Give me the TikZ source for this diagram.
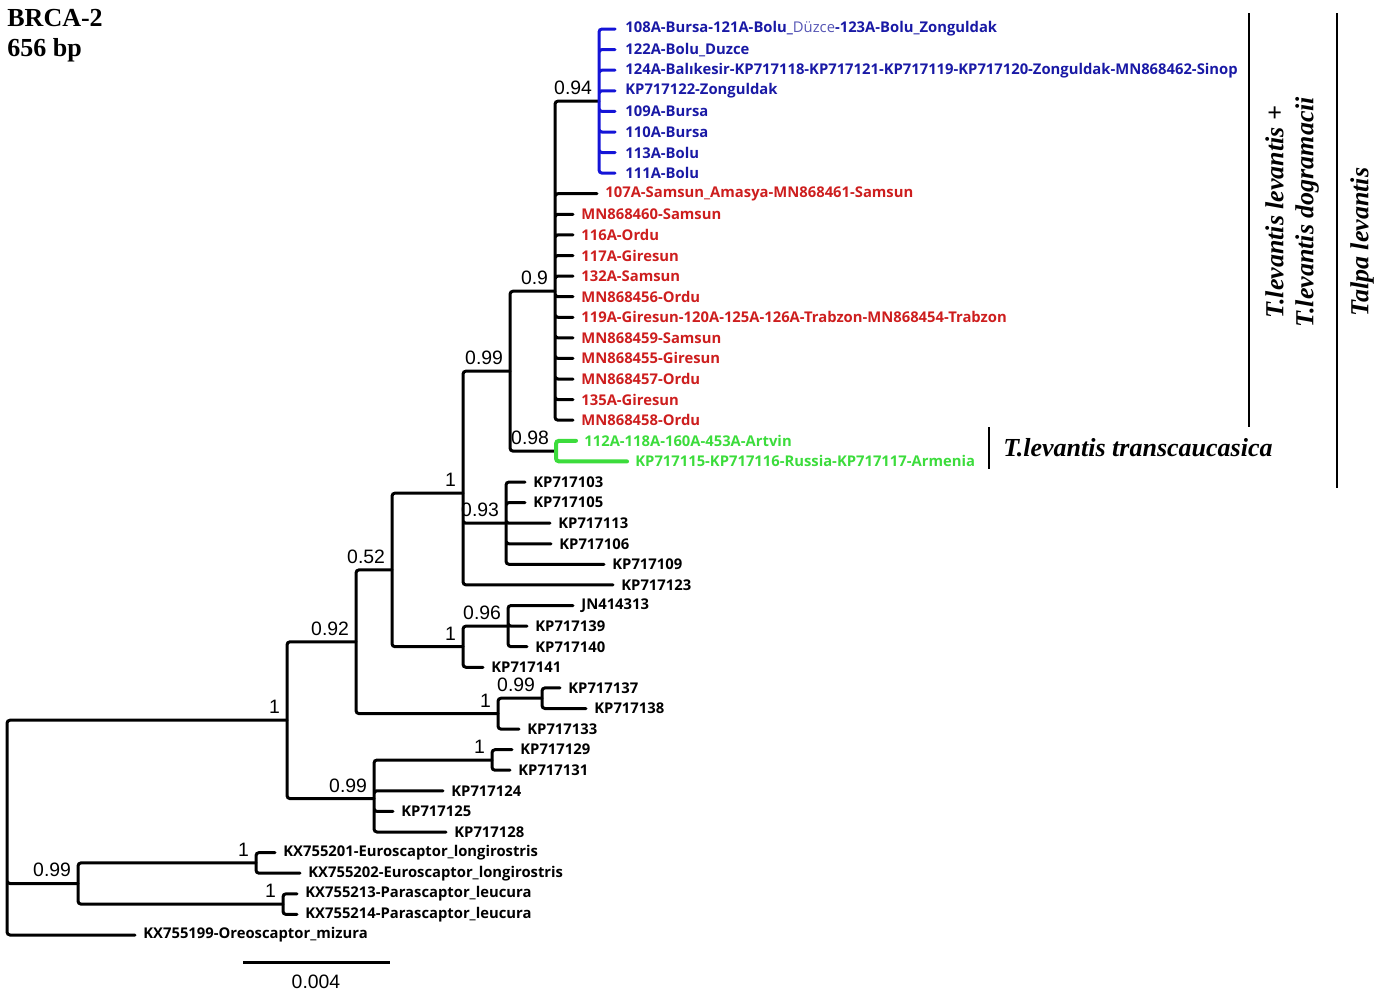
\documentclass[tikz,border=0pt]{standalone}
\usepackage{fontspec}
\setmainfont{Liberation Serif}
\newfontfamily\leaffont{Open Sans}
\newfontfamily\suppfont{Liberation Sans}
\usetikzlibrary{positioning}
\definecolor{cladeblue}{RGB}{20,20,215}
\definecolor{bluetext}{RGB}{25,25,165}
\definecolor{dzblue}{RGB}{85,85,180}
\definecolor{cladered}{RGB}{205,30,30}
\definecolor{cladegreen}{RGB}{60,220,60}

\begin{document}
\begin{tikzpicture}[x=0.5pt,y=-0.5pt,
  br/.style={line width=1.5pt,line cap=round,rounded corners=1.5pt},
  supp/.style={font=\suppfont\fontsize{9.7}{11}\selectfont,inner sep=0pt,xshift=-3.3pt,yshift=3pt},
  lab/.style={font=\leaffont\bfseries\fontsize{7.4}{9}\selectfont,inner sep=0pt,xshift=4pt},
  blab/.style={lab,text=bluetext,xshift=1pt},
  rlab/.style={lab,text=cladered},
  glab/.style={lab,text=cladegreen},
  taxon/.style={font=\bfseries\itshape\fontsize{13}{15}\selectfont,inner sep=0pt},
  bar/.style={line width=0.7pt}]
\useasboundingbox (0,0) rectangle (1388,997);

\node[anchor=north west,align=left,inner sep=0pt,font=\bfseries\fontsize{13}{15}\selectfont] (title) at (7,9) {BRCA-2\\656 bp};

% internal nodes
\coordinate (root) at (7,846.2);
\coordinate[label={[supp]above left:1}] (nin) at (287,720.2);
\coordinate[label={[supp]above left:0.92}] (n092) at (356,641.8);
\coordinate[label={[supp]above left:0.52}] (n052) at (392,569.9);
\coordinate[label={[supp]above left:1}] (n1a) at (463,493.1);
\coordinate[label={[supp]above left:0.99}] (n099a) at (510,371.1);
\coordinate[label={[supp]above left:0.9}] (n09) at (555,291.2);
\coordinate[label={[supp]above left:0.94}] (n094) at (599,101.1);
\coordinate[label={[supp]above left:0.98}] (n098) at (556,451.1);
\coordinate[label={[supp]above left:0.93}] (n093) at (506,523.2);
\coordinate[label={[supp]above left:1}] (n1b) at (463,646.7);
\coordinate[label={[supp]above left:0.96}] (n096) at (508,626.1);
\coordinate[label={[supp]above left:1}] (n1c) at (498,713.6);
\coordinate[label={[supp]above left:0.99}] (n099b) at (542,698.2);
\coordinate[label={[supp]above left:0.99}] (n099c) at (374,798.6);
\coordinate[label={[supp]above left:1}] (n1d) at (492,760.0);
\coordinate[label={[supp]above left:0.99}] (n099d) at (78,883.5);
\coordinate[label={[supp]above left:1}] (n1e) at (256,862.9);
\coordinate[label={[supp]above left:1}] (n1f) at (283,904.1);

% tips
\coordinate[label={[blab]right:108A-Bursa-121A-Bolu\_{\mdseries\color{dzblue}Düzce}-123A-Bolu\_Zonguldak}] (b108) at (615,29.0);
\coordinate[label={[blab]right:122A-Bolu\_Duzce}] (b122) at (615,49.6);
\coordinate[label={[blab]right:124A-Balıkesir-KP717118-KP717121-KP717119-KP717120-Zonguldak-MN868462-Sinop}] (b124) at (615,70.2);
\coordinate[label={[blab]right:KP717122-Zonguldak}] (b122z) at (615,90.8);
\coordinate[label={[blab]right:109A-Bursa}] (b109) at (615,111.4);
\coordinate[label={[blab]right:110A-Bursa}] (b110) at (615,132.0);
\coordinate[label={[blab]right:113A-Bolu}] (b113) at (615,152.5);
\coordinate[label={[blab]right:111A-Bolu}] (b111) at (615,173.1);
\coordinate[label={[rlab]right:107A-Samsun\_Amasya-MN868461-Samsun}] (r107) at (597,193.7);
\coordinate[label={[rlab]right:MN868460-Samsun}] (r460) at (573,214.3);
\coordinate[label={[rlab]right:116A-Ordu}] (r116) at (573,234.9);
\coordinate[label={[rlab]right:117A-Giresun}] (r117) at (573,255.5);
\coordinate[label={[rlab]right:132A-Samsun}] (r132) at (573,276.1);
\coordinate[label={[rlab]right:MN868456-Ordu}] (r456) at (573,296.7);
\coordinate[label={[rlab]right:119A-Giresun-120A-125A-126A-Trabzon-MN868454-Trabzon}] (r119) at (573,317.3);
\coordinate[label={[rlab]right:MN868459-Samsun}] (r459) at (573,337.9);
\coordinate[label={[rlab]right:MN868455-Giresun}] (r455) at (573,358.4);
\coordinate[label={[rlab]right:MN868457-Ordu}] (r457) at (573,379.0);
\coordinate[label={[rlab]right:135A-Giresun}] (r135) at (573,399.6);
\coordinate[label={[rlab]right:MN868458-Ordu}] (r458) at (573,420.2);
\coordinate[label={[glab]right:112A-118A-160A-453A-Artvin}] (g112) at (576,440.8);
\coordinate[label={[glab]right:KP717115-KP717116-Russia-KP717117-Armenia}] (g115) at (627,461.4);
\coordinate[label={[lab]right:KP717103}] (k103) at (525,482.0);
\coordinate[label={[lab]right:KP717105}] (k105) at (525,502.6);
\coordinate[label={[lab]right:KP717113}] (k113) at (550,523.2);
\coordinate[label={[lab]right:KP717106}] (k106) at (551,543.8);
\coordinate[label={[lab]right:KP717109}] (k109) at (604,564.3);
\coordinate[label={[lab]right:KP717123}] (k123) at (613,584.9);
\coordinate[label={[lab]right:JN414313}] (j313) at (573,605.5);
\coordinate[label={[lab]right:KP717139}] (k139) at (527,626.1);
\coordinate[label={[lab]right:KP717140}] (k140) at (527,646.7);
\coordinate[label={[lab]right:KP717141}] (k141) at (483,667.3);
\coordinate[label={[lab]right:KP717137}] (k137) at (560,687.9);
\coordinate[label={[lab]right:KP717138}] (k138) at (586,708.5);
\coordinate[label={[lab]right:KP717133}] (k133) at (519,729.1);
\coordinate[label={[lab]right:KP717129}] (k129) at (512,749.7);
\coordinate[label={[lab]right:KP717131}] (k131) at (510,770.2);
\coordinate[label={[lab]right:KP717124}] (k124) at (443,790.8);
\coordinate[label={[lab]right:KP717125}] (k125) at (393,811.4);
\coordinate[label={[lab]right:KP717128}] (k128) at (446,832.0);
\coordinate[label={[lab]right:KX755201-Euroscaptor\_longirostris}] (x201) at (275,852.6);
\coordinate[label={[lab]right:KX755202-Euroscaptor\_longirostris}] (x202) at (300,873.2);
\coordinate[label={[lab]right:KX755213-Parascaptor\_leucura}] (x213) at (297,893.8);
\coordinate[label={[lab]right:KX755214-Parascaptor\_leucura}] (x214) at (297,914.4);
\coordinate[label={[lab]right:KX755199-Oreoscaptor\_mizura}] (x199) at (135,935.0);

% branches
\draw[br] (root) |- (nin) (root) |- (n099d) (root) |- (x199);
\draw[br] (nin) |- (n092) (nin) |- (n099c);
\draw[br] (n092) |- (n052) (n092) |- (n1c);
\draw[br] (n052) |- (n1a) (n052) |- (n1b);
\draw[br] (n1a) |- (n099a) (n1a) |- (n093) (n1a) |- (k123);
\draw[br] (n099a) |- (n09) (n099a) |- (n098);
\draw[br] (n09) |- (n094) (n09) |- (r107) (n09) |- (r460) (n09) |- (r116) (n09) |- (r117)
  (n09) |- (r132) (n09) |- (r456) (n09) |- (r119) (n09) |- (r459) (n09) |- (r455)
  (n09) |- (r457) (n09) |- (r135) (n09) |- (r458);
\draw[br,cladeblue] (n094) |- (b108) (n094) |- (b122) (n094) |- (b124) (n094) |- (b122z)
  (n094) |- (b109) (n094) |- (b110) (n094) |- (b113) (n094) |- (b111);
\draw[br,cladegreen,line width=2pt] (n098) |- (g112) (n098) |- (g115);
\draw[br] (n093) |- (k103) (n093) |- (k105) (n093) |- (k113) (n093) |- (k106) (n093) |- (k109);
\draw[br] (n1b) |- (n096) (n1b) |- (k141);
\draw[br] (n096) |- (j313) (n096) |- (k139) (n096) |- (k140);
\draw[br] (n1c) |- (n099b) (n1c) |- (k133);
\draw[br] (n099b) |- (k137) (n099b) |- (k138);
\draw[br] (n099c) |- (n1d) (n099c) |- (k124) (n099c) |- (k125) (n099c) |- (k128);
\draw[br] (n1d) |- (k129) (n1d) |- (k131);
\draw[br] (n099d) |- (n1e) (n099d) |- (n1f);
\draw[br] (n1e) |- (x201) (n1e) |- (x202);
\draw[br] (n1f) |- (x213) (n1f) |- (x214);

% scale bar
\coordinate (sbl) at (243,962);
\coordinate (sbr) at (390,962);
\draw[line width=1.5pt] (sbl) -- (sbr);
\node[font=\suppfont\fontsize{9.7}{11}\selectfont,inner sep=0pt] (sblab) at (316,982) {0.004};

% clade bars
\coordinate (levtop) at (1249,13);
\coordinate (levbot) at (1249,427);
\coordinate (talpatop) at (1337,13);
\coordinate (talpabot) at (1337,488);
\coordinate (transtop) at (989,427);
\coordinate (transbot) at (989,469);
\draw[bar] (levtop) -- (levbot);
\draw[bar] (talpatop) -- (talpabot);
\draw[bar] (transtop) -- (transbot);
\node[taxon,anchor=west] (translab) at (1003,448) {T.levantis transcaucasica};
\node[taxon,rotate=90,align=center] (levlab) at (1292,212) {T.levantis levantis +\\T.levantis dogramacii};
\node[taxon,rotate=90] (talpalab) at (1362,242) {Talpa levantis};
\end{tikzpicture}
\end{document}
